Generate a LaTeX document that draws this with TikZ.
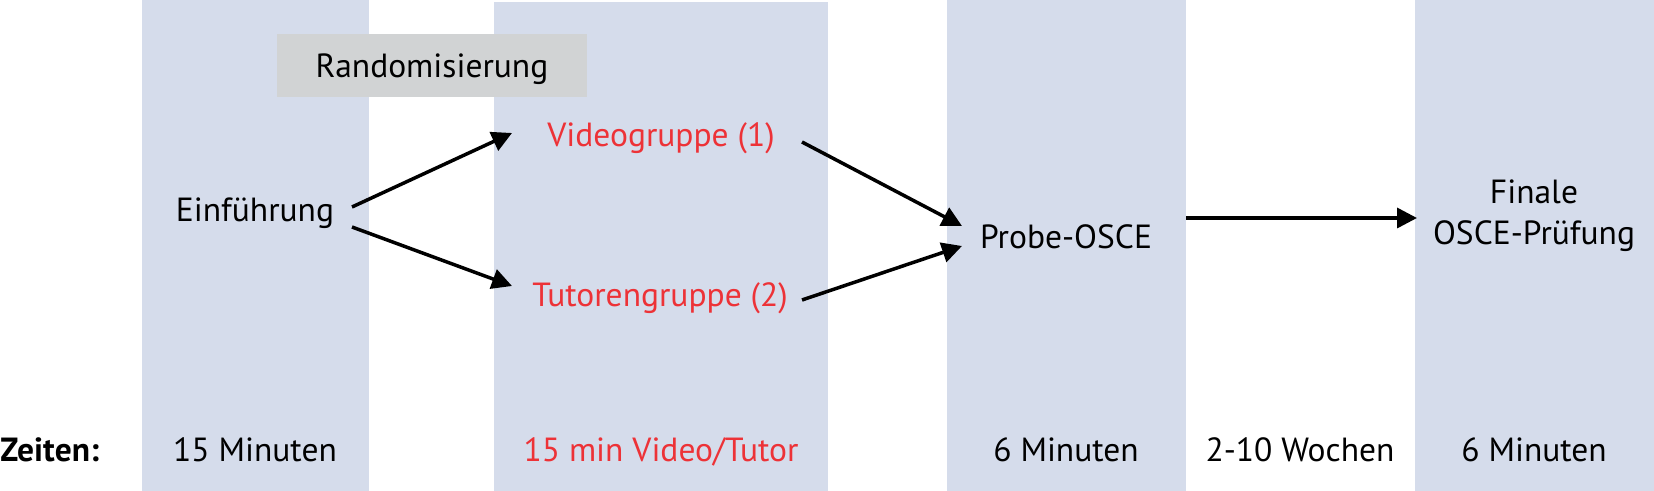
\documentclass[tikz,border=0pt]{standalone}
\usepackage{fontspec}
\setmainfont{PT Sans}
\usetikzlibrary{arrows.meta}
\definecolor{colbg}{RGB}{213,220,235}
\definecolor{randbg}{RGB}{209,211,212}
\definecolor{txtred}{RGB}{237,50,55}
\begin{document}
\begin{tikzpicture}[x=0.5pt,y=-0.5pt,
  lbl/.style={font=\fontsize{16.75}{20.5}\selectfont, inner sep=0pt, text height=11.7pt, text depth=0pt},
  redlbl/.style={lbl, text=txtred},
  arr/.style={-{Triangle[length=10pt,width=10pt]}, line width=1.75pt},
  colbox/.style={fill=colbg, draw=none}]
\useasboundingbox (0,0) rectangle (1654,491);
% columns
\path[colbox] (142,0) rectangle (369,491);
\path[colbox] (494,2) rectangle (828,491);
\path[colbox] (947,0) rectangle (1186,491);
\path[colbox] (1415,0) rectangle (1654,491);
% randomisation box
\node[lbl, fill=randbg, minimum width=155pt, minimum height=31.5pt] (rand) at (432,66) {Randomisierung};
% main nodes
\node[lbl] (ein) at (255,210) {Einführung};
\node[redlbl] (vid) at (661,135) {Videogruppe (1)};
\node[redlbl] (tut) at (660,295) {Tutorengruppe (2)};
\node[lbl] (probe) at (1066,237) {Probe-OSCE};
\node[font=\fontsize{16.75}{20.5}\selectfont, align=center, inner sep=0pt, anchor=base] (fin) at (1534,245) {Finale\\OSCE-Prüfung};
% times row
\node[lbl, font=\fontsize{16.75}{20.5}\selectfont\bfseries, anchor=west] (zeit) at (0,450) {Zeiten:};
\node[lbl] (t1) at (255,450) {15 Minuten};
\node[redlbl] (t2) at (661,450) {15 min Video/Tutor};
\node[lbl] (t3) at (1066,450) {6 Minuten};
\node[lbl] (t4) at (1300,450) {2-10 Wochen};
\node[lbl] (t5) at (1534,450) {6 Minuten};
% arrows
\draw[arr] ([shift={(97,-3)}]ein.center) -- ([shift={(-149,-2)}]vid.center);
\draw[arr] ([shift={(97,17)}]ein.center) -- ([shift={(-148,-9)}]tut.center);
\draw[arr] ([shift={(141,7)}]vid.center) -- ([shift={(-104,-11)}]probe.center);
\draw[arr] ([shift={(142,5)}]tut.center) -- ([shift={(-104,9)}]probe.center);
\draw[arr] ([shift={(120,-19)}]probe.center) -- ([shift={(-117,-27)}]fin.base);
\end{tikzpicture}
\end{document}
